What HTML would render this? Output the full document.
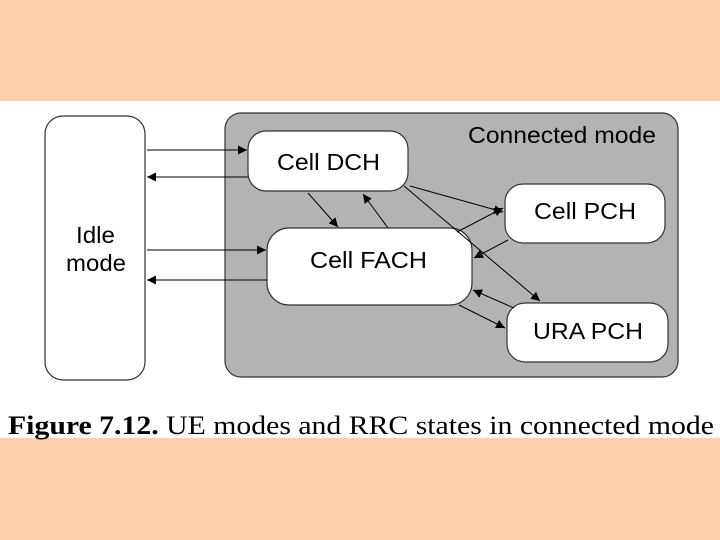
<!DOCTYPE html>
<html><head><style>
body{margin:0;width:720px;height:540px;background:#FFCFAE;overflow:hidden}
</style></head><body>
<svg width="720" height="540" xmlns="http://www.w3.org/2000/svg" style="position:absolute;left:0;top:0">
<defs><marker id="a" viewBox="0 0 10 10" refX="10" refY="5" markerWidth="9" markerHeight="9" orient="auto" markerUnits="userSpaceOnUse"><path d="M0,0L10,5L0,10z" fill="#000"/></marker></defs>
<rect x="0" y="101" width="720" height="337" fill="#fff"/>
<rect x="225" y="113" width="453" height="264" rx="16" fill="#b3b3b3" stroke="#333" stroke-width="1.2"/>
<rect x="45" y="116" width="100" height="264" rx="18" fill="#fff" stroke="#333" stroke-width="1.2"/>
<rect x="248" y="131" width="160" height="60" rx="18" fill="#fff" stroke="#333" stroke-width="1.2"/>
<rect x="267" y="228" width="205" height="77" rx="22" fill="#fff" stroke="#333" stroke-width="1.2"/>
<rect x="505" y="184" width="160" height="59" rx="18" fill="#fff" stroke="#333" stroke-width="1.2"/>
<rect x="507" y="303" width="161" height="59" rx="18" fill="#fff" stroke="#333" stroke-width="1.2"/>
<g stroke="#000" stroke-width="1" fill="none" marker-end="url(#a)">
<line x1="147" y1="150" x2="247" y2="150"/>
<line x1="248" y1="177" x2="147" y2="177"/>
<line x1="147" y1="250" x2="266" y2="250"/>
<line x1="267" y1="280" x2="147" y2="280"/>
<line x1="308" y1="193" x2="338" y2="227"/>
<line x1="388" y1="228" x2="363" y2="194"/>
<line x1="410" y1="186" x2="503" y2="212"/>
<line x1="457" y1="232" x2="503" y2="208"/>
<line x1="508" y1="240" x2="474" y2="258"/>
<line x1="404" y1="186" x2="540" y2="301"/>
<line x1="514" y1="308" x2="473" y2="290"/>
<line x1="459" y1="305" x2="505" y2="328"/>
</g>
<g font-family="Liberation Sans, sans-serif" font-size="23" fill="#000" lengthAdjust="spacingAndGlyphs">
<text x="277" y="170" textLength="103" lengthAdjust="spacingAndGlyphs">Cell DCH</text>
<text x="310" y="268" textLength="117" lengthAdjust="spacingAndGlyphs">Cell FACH</text>
<text x="534" y="219" textLength="102" lengthAdjust="spacingAndGlyphs">Cell PCH</text>
<text x="533" y="339" textLength="110" lengthAdjust="spacingAndGlyphs">URA PCH</text>
<text x="76" y="243" textLength="39" lengthAdjust="spacingAndGlyphs">Idle</text>
<text x="66" y="271" textLength="60" lengthAdjust="spacingAndGlyphs">mode</text>
<text x="468" y="143" textLength="188" lengthAdjust="spacingAndGlyphs">Connected mode</text>
</g>
<text x="8" y="434" font-family="Liberation Serif, serif" font-size="26" fill="#000" textLength="706" lengthAdjust="spacingAndGlyphs"><tspan font-weight="bold">Figure 7.12.</tspan> UE modes and RRC states in connected mode</text>
</svg>
</body></html>
